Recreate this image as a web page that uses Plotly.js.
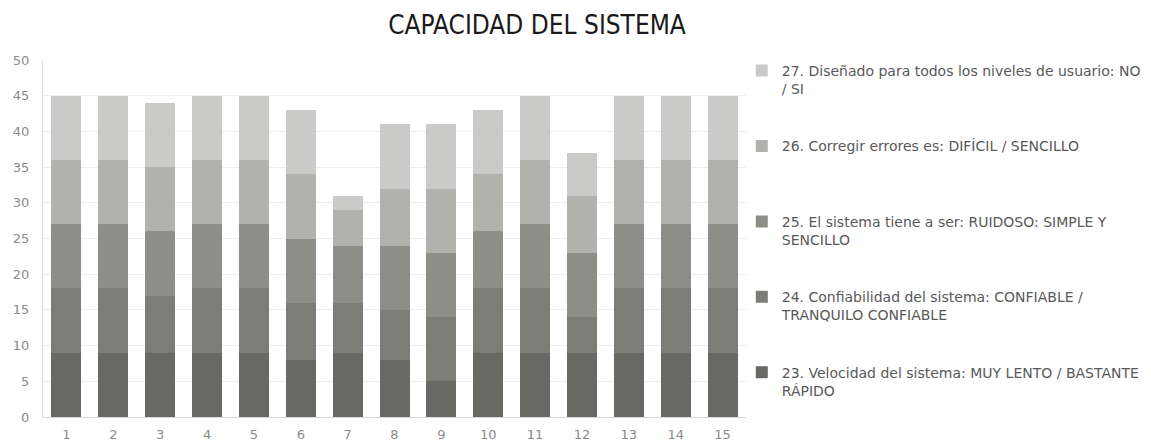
<!DOCTYPE html>
<html>
<head>
<meta charset="utf-8">
<script src="https://cdn.plot.ly/plotly-3.0.1.min.js"></script>
<style>html,body{margin:0;padding:0;background:#fff;}#chart{width:1151px;height:443px;}</style>
</head>
<body>
<div id="chart"></div>
<script>
const categories = ['1','2','3','4','5','6','7','8','9','10','11','12','13','14','15'];
const s23 = [9,9,9,9,9,8,9,8,5,9,9,9,9,9,9];
const s24 = [9,9,8,9,9,8,7,7,9,9,9,5,9,9,9];
const s25 = [9,9,9,9,9,9,8,9,9,8,9,9,9,9,9];
const s26 = [9,9,9,9,9,9,5,8,9,8,9,8,9,9,9];
const s27 = [9,9,9,9,9,9,2,9,9,9,9,6,9,9,9];
const names = [
  '23. Velocidad del sistema: MUY LENTO / BASTANTE<br>RÁPIDO',
  '24. Confiabilidad del sistema: CONFIABLE /<br>TRANQUILO CONFIABLE',
  '25. El sistema tiene a ser: RUIDOSO: SIMPLE Y<br>SENCILLO',
  '26. Corregir errores es: DIFÍCIL / SENCILLO<br> ',
  '27. Diseñado para todos los niveles de usuario: NO<br>/ SI'
];
const colors = ['#686964','#7c7d77','#8d8e88','#b1b2ad','#cacac8'];
const series = [s23,s24,s25,s26,s27];
const FONT = '"DejaVu Sans", sans-serif';
const TFONT = '"DejaVu Sans Condensed", "DejaVu Sans", sans-serif';
const traces = series.map((s,i)=>({
  type:'bar', x:categories, y:s, name:names[i], legendgroup:'g'+i, legendrank:5-i,
  marker:{color:colors[i]}, hoverinfo:'y'
}));
const layout = {
  width:1151, height:443,
  margin:{l:43, r:405, t:60, b:26, autoexpand:false},
  paper_bgcolor:'#fff', plot_bgcolor:'#fff',
  barmode:'stack', bargap:0.36,
  font:{family:FONT, size:12, color:'#595959'},
  title:{text:'CAPACIDAD DEL SISTEMA', x:0.4666, xanchor:'center', y:0.944, yanchor:'middle',
         font:{family:TFONT, size:26, color:'#1a1a1a'}},
  xaxis:{type:'category', showgrid:false, showline:true, linecolor:'#d9d9d9', linewidth:1,
         ticks:'', tickfont:{family:FONT, size:13, color:'#8a8a8a'}, ticklabelstandoff:5},
  yaxis:{range:[0,50], dtick:5, showgrid:true, gridcolor:'#eeeeee', gridwidth:1,
         showline:true, linecolor:'#d9d9d9', linewidth:1, zeroline:false,
         ticks:'', tickfont:{family:FONT, size:13, color:'#8a8a8a'}, ticklabelstandoff:10},
  showlegend:true,
  legend:{x:0.994, xanchor:'left', y:1.014, yanchor:'top', traceorder:'grouped',
          tracegroupgap:36, valign:'top', maxheight:440,
          font:{family:FONT, size:14, color:'#595959'},
          bgcolor:'rgba(0,0,0,0)'}
};
Plotly.newPlot('chart', traces, layout, {displayModeBar:false, staticPlot:true});
</script>
</body>
</html>
